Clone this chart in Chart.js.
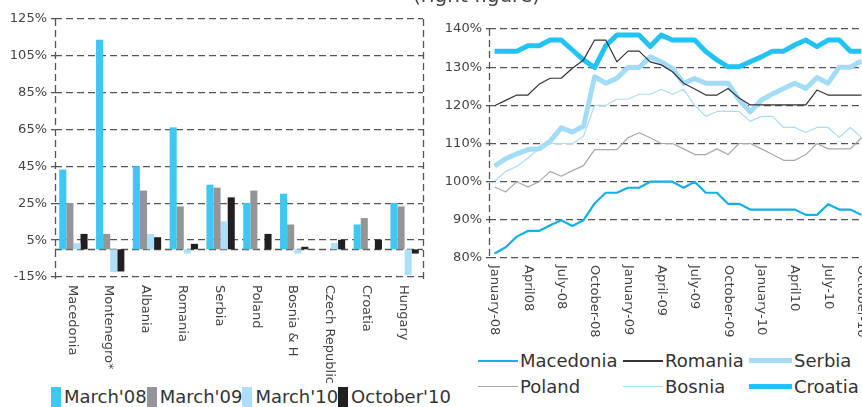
<!DOCTYPE html>
<html>
<head>
<meta charset="utf-8">
<script src="https://cdn.jsdelivr.net/npm/chart.js@4/dist/chart.umd.min.js"></script>
<style>
  html, body { margin: 0; padding: 0; background: #fff; }
  body { width: 862px; height: 407px; overflow: hidden; position: relative;
         font-family: "DejaVu Sans", sans-serif; color: #333; }
  #growth { position: absolute; left: 0; top: 0; }
  #ratio  { position: absolute; left: 430px; top: 0; }
  #note { position: absolute; left: 413px; top: -17px; font-size: 20px; line-height: 24px;
          color: #444; white-space: nowrap; }
  #barLegend { position: absolute; left: 51px; top: 387px; display: flex; }
  #barLegend .item { width: 95.7px; display: flex; align-items: center; font-size: 18px;
                     line-height: 20px; white-space: nowrap; }
  #barLegend .swatch { width: 10px; height: 20px; margin-right: 3px; flex: none; }
  #lineLegend { position: absolute; left: 478px; top: 348px; display: grid;
                grid-template-columns: 145px 126px auto; grid-auto-rows: 25.7px; }
  #lineLegend .item { display: flex; align-items: center; font-size: 18px; white-space: nowrap; }
  #lineLegend .sample { width: 40px; margin-right: 2px; flex: none; }
  #lineLegend .item.wide .sample { width: 43px; }
</style>
</head>
<body>
<canvas id="growth" width="430" height="386"></canvas>
<canvas id="ratio" width="437" height="345"></canvas>
<div id="note">(right figure)</div>
<div id="barLegend"></div>
<div id="lineLegend"></div>
<script>
// ---- Credit growth, y-o-y (%) ----
const countries = ['Macedonia', 'Montenegro*', 'Albania', 'Romania', 'Serbia', 'Poland',
                   'Bosnia & H', 'Czech Republic', 'Croatia', 'Hungary'];
const periodNames = ["March'08", "March'09", "March'10", "October'10"];
const march08   = [43.3, 113.7, 45.1, 66.2, 35.1, 25.2, 30.2, null, 13.5, 25.2];
const march09   = [25.2, 8.4, 31.9, 23.3, 33.5, 31.9, 13.5, null, 17.0, 23.3];
const march10   = [3.4, -12.4, 8.4, -2.3, 15.2, null, -2.3, 3.5, null, -13.9];
const october10 = [8.4, -12.0, 6.6, 3.0, 28.2, 8.4, 1.4, 5.2, 5.2, -2.3];
const growthTicks = [-15, 5, 25, 45, 65, 85, 105, 125];

// ---- Loan to deposit ratio (%) ----
const months = ['January-08', 'February-08', 'March-08', 'April08', 'May-08', 'June-08',
                'July-08', 'August-08', 'September-08', 'October-08', 'November-08', 'December-08',
                'January-09', 'February-09', 'March-09', 'April-09', 'May-09', 'June-09',
                'July-09', 'August-09', 'September-09', 'October-09', 'November-09', 'December-09',
                'January-10', 'February-10', 'March-10', 'April10', 'May-10', 'June-10',
                'July-10', 'August-10', 'September-10', 'October-10'];
const seriesNames = ['Macedonia', 'Romania', 'Serbia', 'Poland', 'Bosnia', 'Croatia'];
const macedonia = [81.2, 82.8, 85.6, 87.1, 87.1, 88.6, 89.9, 88.4, 89.9, 94.3, 97.1, 97.1,
                   98.4, 98.4, 100, 100, 100, 98.4, 100, 97.1, 97.1, 94.2, 94.2, 92.7,
                   92.7, 92.7, 92.7, 92.7, 91.3, 91.3, 94.1, 92.7, 92.7, 91.3];
const romania   = [119.9, 121.3, 122.7, 122.7, 125.5, 127.1, 127.1, 129.7, 131.9, 137.1, 137.1, 131.4,
                   134.2, 134.2, 131.4, 130.6, 128.8, 125.8, 124.3, 122.7, 122.7, 124.4, 121.9, 120.1,
                   120.1, 120.1, 120.1, 120.1, 120.1, 124.0, 122.7, 122.7, 122.7, 122.7];
const serbia    = [104.1, 106.0, 107.3, 108.4, 108.6, 110.6, 114.1, 113.0, 114.5, 127.5, 125.8, 127.1,
                   129.9, 129.9, 132.7, 131.4, 129.7, 125.8, 127.0, 125.8, 125.8, 125.8, 121.4, 118.3,
                   121.4, 123.0, 124.4, 125.8, 124.4, 127.3, 125.8, 130.0, 130.0, 131.6];
const poland    = [98.6, 97.3, 100.0, 98.6, 100.0, 102.7, 101.4, 102.9, 104.2, 108.4, 108.4, 108.4,
                   111.5, 112.8, 111.5, 110.0, 110.0, 108.6, 107.1, 107.1, 108.6, 107.1, 110.0, 110.0,
                   108.6, 107.1, 105.6, 105.6, 107.1, 110.0, 108.6, 108.6, 108.6, 111.5];
const bosnia    = [100.1, 102.7, 104.0, 106.2, 108.6, 110.0, 110.0, 110.0, 111.9, 120.0, 120.0, 121.6,
                   121.6, 122.9, 122.9, 124.2, 122.9, 124.2, 120.0, 117.1, 118.4, 118.4, 118.4, 115.8,
                   117.1, 117.1, 114.2, 114.2, 112.9, 114.2, 114.2, 111.6, 114.2, 111.6];
const croatia   = [134.2, 134.2, 134.2, 135.6, 135.6, 137.1, 137.1, 134.5, 131.9, 129.9, 135.6, 138.4,
                   138.4, 138.4, 135.4, 138.4, 137.1, 137.1, 137.1, 134.1, 131.9, 130.1, 130.1, 131.4,
                   132.7, 134.2, 134.2, 135.8, 137.1, 135.4, 137.1, 137.1, 134.2, 134.2];
const ratioTicks = [80, 90, 100, 110, 120, 130, 140];

// ---- look ----
const FONT = '"DejaVu Sans", sans-serif';
const GRID = '#555';
const DASH = [7, 4];
const barColors = ['#3dc8f4', '#939598', '#ade0f8', '#231f20'];
const lineLooks = [
  { color: '#14aee8', width: 2.2 },
  { color: '#333333', width: 1.2 },
  { color: '#a2dcf7', width: 5 },
  { color: '#a8a8a8', width: 1.2 },
  { color: '#a9ddf6', width: 1.2 },
  { color: '#22c2f2', width: 5 }
];

// Dashed axis lines / zero line, drawn under the data
const frame = {
  id: 'frame',
  beforeDatasetsDraw(chart, args, o) {
    const { ctx, chartArea: a } = chart;
    ctx.save();
    ctx.strokeStyle = GRID;
    ctx.lineWidth = 1.3;
    ctx.setLineDash(DASH);
    ctx.beginPath();
    (o.sides || []).forEach(s => {
      const x = Math.round(s === 'left' ? a.left : a.right) + 0.5;
      ctx.moveTo(x, a.top);
      ctx.lineTo(x, a.bottom + 2);
    });
    if (o.zero) {
      const y = Math.round(chart.scales.y.getPixelForValue(0)) + 0.5;
      ctx.moveTo(a.left, y);
      ctx.lineTo(a.right, y);
    }
    ctx.stroke();
    ctx.restore();
  }
};

// Category labels written top-to-bottom under the plot
const verticalLabels = {
  id: 'verticalLabels',
  afterDraw(chart, args, o) {
    const xs = chart.scales.x;
    const ctx = chart.ctx;
    ctx.save();
    ctx.font = o.font;
    ctx.fillStyle = o.color;
    ctx.textAlign = 'left';
    ctx.textBaseline = 'middle';
    xs.ticks.forEach((t, i) => {
      if (i % o.every) return;
      ctx.save();
      ctx.translate(xs.getPixelForTick(i) + (o.shift || 0), chart.chartArea.bottom + o.gap);
      ctx.rotate(Math.PI / 2);
      ctx.fillText(xs.getLabelForValue(t.value), 0, 0);
      ctx.restore();
    });
    ctx.restore();
  }
};

function valueAxis(tickList, axisWidth, tickLen) {
  return {
    afterBuildTicks: s => { s.ticks = tickList.map(v => ({ value: v })); },
    afterFit: s => { s.width = axisWidth; },
    min: tickList[0], max: tickList[tickList.length - 1],
    grid: { color: GRID, lineWidth: 1.3, tickLength: tickLen, tickColor: GRID, tickWidth: 1.3,
            tickBorderDash: [] },
    border: { display: false, dash: DASH },
    ticks: { color: '#444', font: { family: FONT, size: 13 }, padding: 4,
             callback: v => v + '%' }
  };
}

new Chart(document.getElementById('growth'), {
  type: 'bar',
  data: {
    labels: countries,
    datasets: [march08, march09, march10, october10].map((d, i) => ({
      label: periodNames[i], data: d, backgroundColor: barColors[i],
      categoryPercentage: 0.77, barPercentage: 1.0, borderWidth: 0
    }))
  },
  options: {
    responsive: false, animation: false,
    layout: { padding: { top: 19, right: 7, left: 0, bottom: 0 } },
    plugins: { legend: { display: false }, tooltip: { enabled: false },
               frame: { sides: ['left', 'right'], zero: true },
               verticalLabels: { font: '13px ' + FONT, color: '#444', gap: 8, every: 1, shift: -1.5 } },
    scales: {
      x: { grid: { display: false }, border: { display: false },
           ticks: { display: false, autoSkip: false },
           afterFit: s => { s.height = 109; } },
      y: valueAxis(growthTicks, 55, 4)
    }
  },
  plugins: [frame, verticalLabels]
});

const seriesData = [macedonia, romania, serbia, poland, bosnia, croatia];
new Chart(document.getElementById('ratio'), {
  type: 'line',
  data: {
    labels: months,
    datasets: seriesData.map((d, i) => ({
      label: seriesNames[i], data: d, borderColor: lineLooks[i].color,
      borderWidth: lineLooks[i].width, pointRadius: 0, tension: 0,
      borderJoinStyle: 'round', fill: false
    }))
  },
  options: {
    responsive: false, animation: false,
    layout: { padding: { top: 29, right: 0, left: 0, bottom: 0 } },
    plugins: { legend: { display: false }, tooltip: { enabled: false },
               frame: { sides: ['left'], zero: false },
               verticalLabels: { font: '13px ' + FONT, color: '#444', gap: 7, every: 3 } },
    scales: {
      x: { offset: true, grid: { display: false }, border: { display: false },
           ticks: { display: false, autoSkip: false },
           afterFit: s => { s.height = 87; } },
      y: valueAxis(ratioTicks, 59, 3)
    }
  },
  plugins: [frame, verticalLabels]
});

// Legends
const barLegend = document.getElementById('barLegend');
periodNames.forEach((name, i) => {
  const item = document.createElement('div');
  item.className = 'item';
  item.innerHTML = '<span class="swatch" style="background:' + barColors[i] + '"></span><span>' + name + '</span>';
  barLegend.appendChild(item);
});
const lineLegend = document.getElementById('lineLegend');
seriesNames.forEach((name, i) => {
  const item = document.createElement('div');
  item.className = 'item' + (i % 3 === 2 ? ' wide' : '');
  const h = Math.max(1.5, lineLooks[i].width);
  item.innerHTML = '<span class="sample" style="height:' + h + 'px;background:' + lineLooks[i].color +
                   '"></span><span>' + name + '</span>';
  lineLegend.appendChild(item);
});
</script>
</body>
</html>
